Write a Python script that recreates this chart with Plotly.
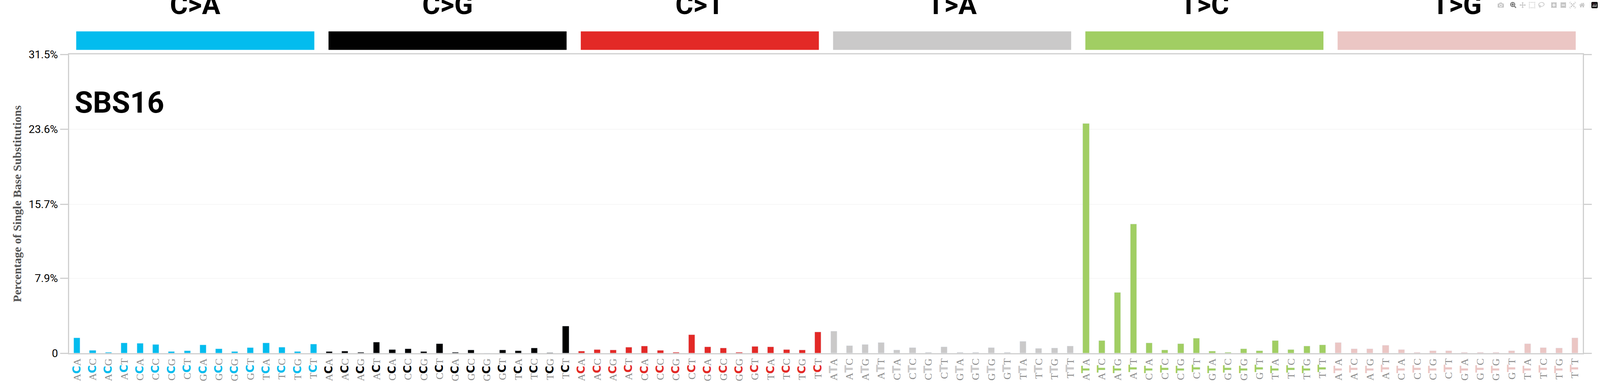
import plotly.graph_objects as go

groups = ["C>A", "C>G", "C>T", "T>A", "T>C", "T>G"]
group_colors = ["#03BCEE", "#010101", "#E32926", "#CAC9C9", "#A1CE63", "#EBC6C4"]
contexts = ["A_A","A_C","A_G","A_T","C_A","C_C","C_G","C_T",
            "G_A","G_C","G_G","G_T","T_A","T_C","T_G","T_T"]

ca = [1.62,0.29,0.10,1.07,1.02,0.89,0.16,0.23,0.86,0.44,0.16,0.57,1.07,0.60,0.16,0.94]
cg = [0.16,0.21,0.08,1.15,0.37,0.44,0.16,0.99,0.10,0.31,0.02,0.31,0.23,0.52,0.03,2.85]
ct = [0.21,0.37,0.31,0.60,0.73,0.29,0.08,1.93,0.65,0.52,0.10,0.70,0.65,0.37,0.31,2.22]
ta = [2.30,0.78,0.89,1.10,0.31,0.57,0.10,0.65,0.10,0.08,0.57,0.10,1.23,0.50,0.52,0.73]
tc = [24.2,1.30,6.40,13.6,1.07,0.31,0.99,1.57,0.21,0.10,0.44,0.23,1.30,0.37,0.73,0.86]
tg = [1.10,0.44,0.44,0.81,0.39,0.10,0.23,0.23,0.08,0.08,0.08,0.23,0.99,0.57,0.52,1.60]
series = [ca, cg, ct, ta, tc, tg]

y_ticks = [0, 7.9, 15.7, 23.6, 31.5]
y_ticktext = ["0", "7.9%", "15.7%", "23.6%", "31.5%"]

fig = go.Figure()
tickvals, ticktext = [], []
for gi, (g, col, vals) in enumerate(zip(groups, group_colors, series)):
    xs = [gi * 16 + k for k in range(16)]
    fig.add_trace(go.Bar(x=xs, y=vals, marker_color=col, width=0.4, showlegend=False))
    ref = g[0]
    for k, c in enumerate(contexts):
        tickvals.append(xs[k])
        ticktext.append(
            f"<span style='color:#8c8c8c'>{c[0]}</span>"
            f"<span style='color:{col};font-family:DejaVu Sans;font-size:28px'><b>{ref}</b></span>"
            f"<span style='color:#8c8c8c'>{c[2]}</span>")
    fig.add_shape(type="rect", xref="x", yref="paper", x0=gi*16-0.5+0.45, x1=gi*16+15.5-0.45,
                  y0=1.015, y1=1.077, fillcolor=col, line_width=0)
    fig.add_annotation(x=gi*16+7.5, xref="x", y=1.11, yref="paper", text=f"<b>{g}</b>",
                       showarrow=False, yanchor="bottom",
                       font=dict(size=70, family="Roboto", color="black"))

fig.add_annotation(x=0.003, xref="paper", y=0.9, yref="paper", text="<b>SBS16</b>", showarrow=False,
                   xanchor="left", yanchor="top",
                   font=dict(size=76, family="Roboto", color="black"))

fig.update_layout(
    autosize=True, plot_bgcolor="white", paper_bgcolor="white",
    margin=dict(l=177, r=44, t=139, b=89), bargap=0,
    xaxis=dict(range=[-0.5, 95.5], tickvals=tickvals, ticktext=ticktext, tickangle=-90,
               tickfont=dict(size=26, family="Liberation Serif", color="#8c8c8c"),
               showline=True, linecolor="#d0d0d0", linewidth=3, mirror=True, showgrid=False, ticks=""),
    yaxis=dict(range=[0, 31.5], tickvals=y_ticks, ticktext=y_ticktext,
               tickfont=dict(size=28, family="Roboto", color="black"),
               showline=True, linecolor="#d0d0d0", linewidth=3, mirror="ticks",
               ticks="outside", ticklen=20, tickwidth=3, tickcolor="#d0d0d0",
               showgrid=True, gridcolor="#eeeeee", gridwidth=1, zeroline=False,
               title=dict(text="<b>Percentage of Single Base Substitutions</b>", standoff=10,
                          font=dict(size=30, family="Liberation Serif", color="#555555"))),
)
post = ("document.body.style.margin='0';document.body.style.overflow='hidden';"
        "var d=document.getElementById('{plot_id}');d.style.width='100vw';d.style.height='100vh';"
        "Plotly.Plots.resize(d);")
fig.write_html("out.html", default_width="100vw", default_height="100vh",
               config={"responsive": True}, post_script=post)
